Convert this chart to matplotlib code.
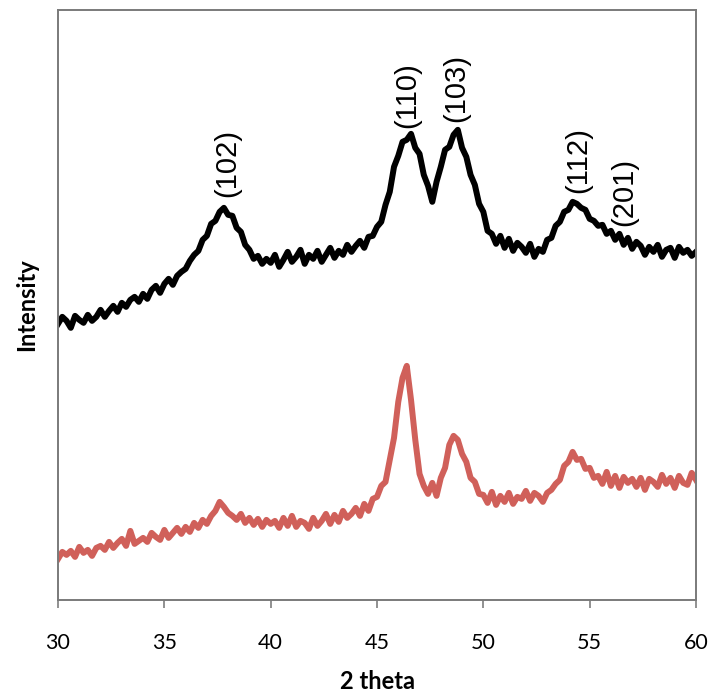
import numpy as np
import matplotlib.pyplot as plt

# XRD patterns, 2 theta from 30 to 60 in steps of 0.2
two_theta_start, two_theta_end = 30, 60

upper = [
    276, 283, 279, 272, 284, 280, 277, 285, 279, 283,
    290, 283, 289, 294, 288, 297, 293, 300, 303, 298,
    306, 301, 310, 314, 307, 316, 321, 315, 324, 328,
    331, 339, 345, 349, 360, 364, 376, 379, 388, 392,
    385, 384, 372, 368, 355, 350, 341, 344, 336, 341,
    337, 345, 333, 340, 348, 338, 343, 350, 336, 345,
    341, 349, 338, 345, 352, 342, 349, 345, 355, 348,
    354, 359, 352, 363, 364, 373, 378, 395, 408, 433,
    444, 458, 460, 466, 452, 446, 425, 414, 398, 418,
    433, 450, 453, 465, 470, 452, 443, 425, 415, 396,
    388, 369, 366, 356, 364, 352, 361, 349, 357, 353,
    347, 356, 343, 351, 348, 360, 362, 374, 378, 388,
    390, 398, 396, 392, 390, 381, 379, 374, 375, 366,
    369, 360, 366, 355, 362, 351, 358, 354, 345, 353,
    348, 355, 343, 350, 352, 342, 353, 347, 350, 344,
    348,
]

lower = [
    41, 48, 45, 49, 43, 53, 47, 50, 44, 52,
    54, 50, 58, 52, 57, 61, 54, 69, 56, 59,
    62, 58, 67, 63, 60, 70, 62, 67, 72, 66,
    73, 68, 77, 72, 80, 76, 84, 89, 98, 93,
    87, 84, 80, 86, 77, 82, 75, 81, 73, 80,
    76, 79, 72, 82, 74, 84, 73, 79, 77, 71,
    82, 74, 79, 86, 76, 85, 78, 89, 82, 86,
    92, 84, 96, 89, 101, 103, 114, 118, 140, 162,
    198, 222, 234, 200, 160, 126, 114, 106, 117, 104,
    122, 132, 155, 164, 160, 146, 138, 122, 118, 106,
    105, 97, 108, 95, 104, 98, 107, 96, 103, 101,
    109, 99, 107, 104, 98, 107, 110, 116, 120, 134,
    138, 148, 140, 141, 131, 132, 122, 124, 116, 128,
    114, 124, 112, 123, 117, 121, 113, 122, 110, 121,
    118, 113, 125, 116, 122, 112, 124, 117, 115, 127,
    120,
]

# peak labels: (text, 2 theta, height of label foot)
peak_labels = ['(102)', '(110)', '(103)', '(112)', '(201)']
peak_pos = [37.95, 46.4, 48.75, 54.45, 56.65]
peak_foot = [403, 472, 478, 407, 374]

x = np.linspace(two_theta_start, two_theta_end, len(upper))

fig = plt.figure(figsize=(7.12, 7.0), dpi=100)
ax = fig.add_axes([0.0815, 0.143, 0.896, 0.843])

ax.plot(x, upper, color='black', lw=4.3, solid_joinstyle='round')
ax.plot(x, lower, color='#d0605a', lw=4.3, solid_joinstyle='round')

for lab, px, py in zip(peak_labels, peak_pos, peak_foot):
    ax.text(px, py, lab, rotation=90, ha='center', va='bottom',
            fontsize=21, family='Liberation Sans')

ax.set_xlim(30, 60)
ax.set_ylim(0, 590)
ax.set_xticks([30, 35, 40, 45, 50, 55, 60])
ax.set_yticks([])
ax.tick_params(axis='x', direction='out', length=6, width=1.3, color='#888888',
               pad=18, labelsize=15.5)
for lbl in ax.get_xticklabels():
    lbl.set_family('Lato')
for s in ax.spines.values():
    s.set_color('#7a7a7a')
    s.set_linewidth(1.4)

ax.set_xlabel('2 theta', fontsize=17, fontweight='bold', family='Lato', labelpad=12)
ax.set_ylabel('Intensity', fontsize=17, fontweight='bold', family='Lato', labelpad=14)

fig.savefig('out.png', dpi=100)
